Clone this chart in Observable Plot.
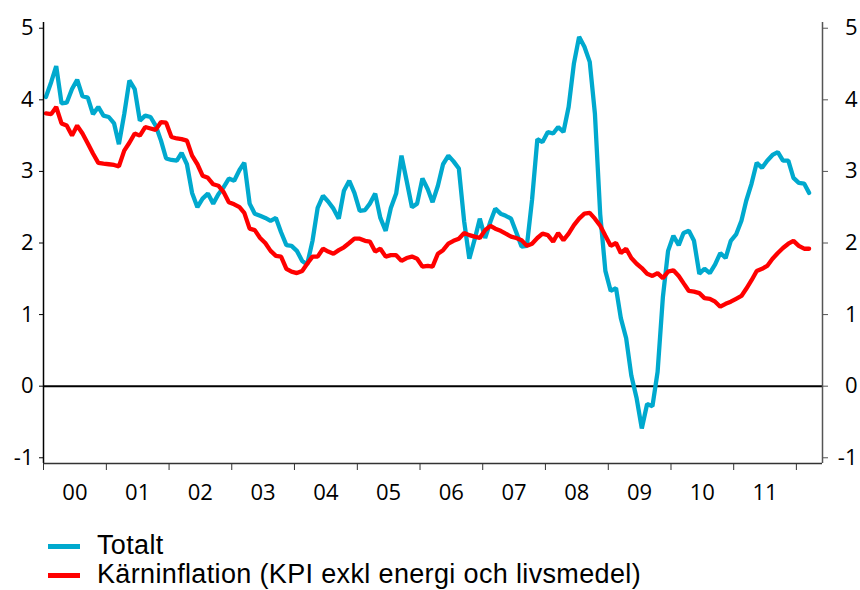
<!DOCTYPE html>
<html><head><meta charset="utf-8">
<script src="https://cdn.jsdelivr.net/npm/d3@7"></script>
<script src="https://cdn.jsdelivr.net/npm/@observablehq/plot@0.6"></script>
<style>
body{margin:0;background:#fff;}
#wrap{position:relative;width:860px;height:590px;overflow:hidden;}
.leg{position:absolute;left:0;width:860px;height:30px;font-family:"Liberation Sans",Arial,sans-serif;font-size:27px;line-height:30px;letter-spacing:0.35px;color:#000;white-space:nowrap;}
.sw{position:absolute;left:48px;width:32px;height:5px;top:14px;}
.lt{position:absolute;left:97px;top:0;}
</style></head><body><div id="wrap"></div><script>
const startYear = 2000;
const yearLabels = ["00","01","02","03","04","05","06","07","08","09","10","11"];
const yTicks = [-1, 0, 1, 2, 3, 4, 5];
const seriesNames = ["Totalt", "Kärninflation (KPI exkl energi och livsmedel)"];
const seriesColors = ["#00A9CE", "#FF0000"];
// monthly values, Jan 2000 onward
const totalt = [4.04,4.25,4.47,3.95,3.96,4.15,4.28,4.05,4.03,3.80,3.90,3.78,
3.76,3.67,3.38,3.80,4.27,4.15,3.71,3.78,3.76,3.64,3.43,3.18,
3.16,3.15,3.26,3.10,2.70,2.50,2.62,2.69,2.55,2.68,2.78,2.90,
2.87,3.02,3.12,2.55,2.41,2.38,2.35,2.31,2.35,2.15,1.97,1.96,
1.89,1.75,1.70,2.03,2.49,2.66,2.58,2.48,2.34,2.73,2.87,2.70,
2.45,2.46,2.55,2.69,2.35,2.17,2.49,2.69,3.22,2.87,2.50,2.55,
2.90,2.75,2.57,2.80,3.10,3.22,3.14,3.04,2.30,1.78,2.05,2.34,
2.07,2.30,2.48,2.41,2.38,2.34,2.15,1.95,1.96,2.60,3.45,3.41,
3.55,3.53,3.62,3.55,3.90,4.51,4.88,4.74,4.53,3.81,2.40,1.61,
1.33,1.37,0.95,0.67,0.15,-0.17,-0.59,-0.25,-0.28,0.20,1.25,1.89,
2.10,1.97,2.14,2.17,2.03,1.57,1.64,1.58,1.70,1.86,1.79,2.03,
2.12,2.31,2.59,2.83,3.12,3.05,3.15,3.23,3.27,3.15,3.15,2.91,
2.84,2.83,2.70];
const karn = [3.81,3.80,3.90,3.67,3.64,3.50,3.64,3.53,3.39,3.25,3.12,3.11,
3.10,3.09,3.07,3.29,3.40,3.53,3.50,3.62,3.60,3.58,3.69,3.68,
3.48,3.46,3.45,3.43,3.22,3.10,2.94,2.91,2.82,2.80,2.71,2.57,
2.54,2.50,2.42,2.20,2.18,2.07,2.00,1.89,1.82,1.81,1.64,1.60,
1.58,1.61,1.71,1.81,1.81,1.92,1.88,1.85,1.90,1.94,2.00,2.06,
2.06,2.03,2.02,1.88,1.92,1.81,1.83,1.83,1.75,1.79,1.81,1.78,
1.67,1.68,1.67,1.85,1.90,1.99,2.03,2.06,2.14,2.11,2.09,2.07,
2.18,2.24,2.20,2.17,2.13,2.09,2.07,2.04,1.96,1.99,2.07,2.13,
2.11,2.02,2.14,2.04,2.13,2.25,2.34,2.41,2.42,2.34,2.24,2.10,
1.96,2.00,1.86,1.92,1.79,1.71,1.65,1.57,1.54,1.58,1.51,1.60,
1.62,1.54,1.44,1.33,1.32,1.30,1.23,1.22,1.18,1.11,1.15,1.18,
1.22,1.26,1.36,1.48,1.61,1.64,1.68,1.78,1.86,1.93,1.99,2.03,
1.96,1.92,1.92];

const rows = totalt.map((v, i) => ({date: new Date(Date.UTC(startYear, i, 15)), totalt: v, karn: karn[i]}));
const x0 = new Date(Date.UTC(startYear, 0, 1));
const x1 = new Date(Date.UTC(2012, 5, 1));
const yMin = -1.08, yMax = 5.08;
const yearStarts = d3.range(startYear, 2013).map(y => new Date(Date.UTC(y, 0, 1)));
const yearMids = yearLabels.map((l, i) => ({date: new Date(Date.UTC(startYear + i, 6, 2)), label: l}));

const chart = Plot.plot({
  width: 860, height: 510,
  marginLeft: 43, marginRight: 38, marginTop: 22, marginBottom: 47,
  style: {fontFamily: "'Open Sans', sans-serif", fontSize: "22px", color: "#000", background: "#fff"},
  x: {type: "utc", domain: [x0, x1]},
  y: {domain: [yMin, yMax]},
  marks: [
    Plot.ruleY([0], {stroke: "#000", strokeWidth: 2}),
    Plot.line(rows, {x: "date", y: "totalt", stroke: seriesColors[0], strokeWidth: 4.3, strokeLinejoin: "miter"}),
    Plot.line(rows, {x: "date", y: "karn", stroke: seriesColors[1], strokeWidth: 4.3, strokeLinejoin: "miter"}),
    Plot.ruleX([x0], {stroke: "#000", strokeWidth: 1.5}),
    Plot.ruleX([x1], {stroke: "#555", strokeWidth: 1.5}),
    Plot.ruleY([yMin], {stroke: "#333", strokeWidth: 1.5}),
    Plot.axisY({anchor: "left", ticks: yTicks, tickFormat: d => String(d), tickSize: 4, tickPadding: 6, label: null, stroke: "#000"}),
    Plot.axisY({anchor: "right", ticks: yTicks, tickFormat: d => String(d), tickSize: 5, tickPadding: 30, textAnchor: "end", label: null, stroke: "#555"}),
    Plot.axisX({ticks: yearStarts, tickFormat: () => "", tickSize: 7, label: null, stroke: "#333"}),
    Plot.text(yearMids, {x: "date", text: "label", frameAnchor: "bottom", dy: 29, lineAnchor: "middle", fontSize: 22})
  ]
});

const wrap = document.getElementById("wrap");
wrap.appendChild(chart);
const tops = [530, 559];
seriesNames.forEach((name, i) => {
  const d = document.createElement("div");
  d.className = "leg";
  d.style.top = tops[i] + "px";
  const sw = document.createElement("span");
  sw.className = "sw";
  sw.style.background = seriesColors[i];
  const t = document.createElement("span");
  t.className = "lt";
  t.textContent = name;
  d.appendChild(sw); d.appendChild(t);
  wrap.appendChild(d);
});
</script></body></html>
